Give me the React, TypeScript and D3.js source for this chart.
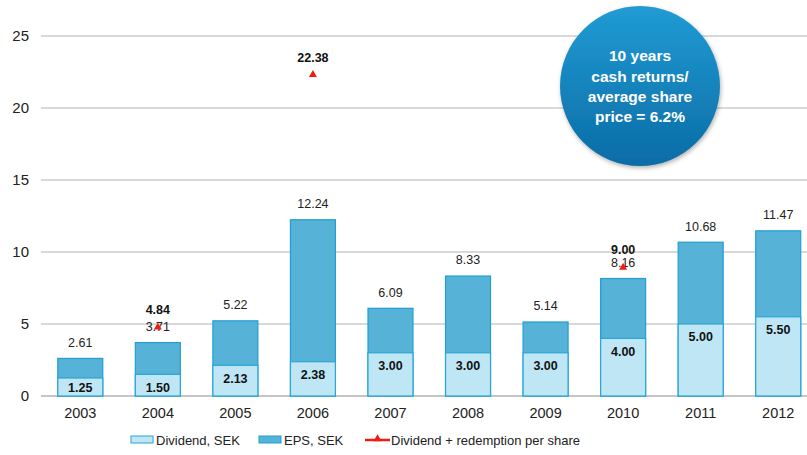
import {useEffect, useRef} from 'react';
import * as d3 from 'd3';

const years = ['2003', '2004', '2005', '2006', '2007', '2008', '2009', '2010', '2011', '2012'];
const dividend = [1.25, 1.50, 2.13, 2.38, 3.00, 3.00, 3.00, 4.00, 5.00, 5.50];
const eps = [2.61, 3.71, 5.22, 12.24, 6.09, 8.33, 5.14, 8.16, 10.68, 11.47];
// dividend + redemption, only years with a redemption
const redemption = [
	{year: '2004', value: 4.84}
	, {year: '2006', value: 22.38}
	, {year: '2010', value: 9.00}
];
const yTicks = [0, 5, 10, 15, 20, 25];
const circleLines = ['10 years', 'cash returns/', 'average share', 'price = 6.2%'];

const W = 807, H = 455;
const font = 'Liberation Sans, Arial, sans-serif';

function App(){
	const ref = useRef<SVGSVGElement>(null);

	useEffect(()=>{
		const svg = d3.select(ref.current);
		svg.selectAll('*').remove();

		const x = d3.scaleBand().domain(years).range([41.5, 817]).paddingInner(0.42).paddingOuter(0.21);
		const y = d3.scaleLinear().domain([0, 25]).range([396, 36]);
		const bw = x.bandwidth();
		const cx = (d: string)=> (x(d) as number) + bw / 2;

		const defs = svg.append('defs');
		const grad = defs.append('linearGradient').attr('id', 'circ').attr('x1', 0).attr('y1', 0).attr('x2', 0).attr('y2', 1);
		grad.append('stop').attr('offset', '0%').attr('stop-color', '#219bd4');
		grad.append('stop').attr('offset', '100%').attr('stop-color', '#0b6ca5');
		const shadow = defs.append('filter').attr('id', 'shd').attr('x', '-20%').attr('y', '-20%').attr('width', '140%').attr('height', '140%');
		shadow.append('feDropShadow').attr('dx', 1).attr('dy', 2).attr('stdDeviation', 2).attr('flood-color', '#000').attr('flood-opacity', 0.3);

		// grid
		svg.append('g').selectAll('line').data(yTicks).enter().append('line')
			.attr('x1', 41).attr('x2', W).attr('y1', (d)=> y(d)).attr('y2', (d)=> y(d))
			.attr('stroke', (d)=> d === 0 ? '#8c8c8c' : '#b4b4b4').attr('stroke-width', 1.2);

		svg.append('g').selectAll('text').data(yTicks).enter().append('text')
			.attr('x', 29).attr('y', (d)=> y(d)).attr('dy', '0.35em').attr('text-anchor', 'end')
			.attr('font-family', font).attr('font-size', 15).attr('fill', '#222').text((d)=> d);

		// x labels
		svg.append('g').selectAll('text').data(years).enter().append('text')
			.attr('x', cx).attr('y', 413).attr('dy', '0.35em').attr('text-anchor', 'middle')
			.attr('font-family', font).attr('font-size', 14.5).attr('fill', '#222').text((d)=> d);

		// EPS bars
		svg.append('g').selectAll('rect').data(eps).enter().append('rect')
			.attr('x', (d, i)=> x(years[i]) as number).attr('width', bw)
			.attr('y', (d)=> y(d)).attr('height', (d)=> y(0) - y(d))
			.attr('fill', '#56b2d6').attr('stroke', '#1f9fd4').attr('stroke-width', 1.2);

		// dividend bars
		svg.append('g').selectAll('rect').data(dividend).enter().append('rect')
			.attr('x', (d, i)=> x(years[i]) as number).attr('width', bw)
			.attr('y', (d)=> y(d)).attr('height', (d)=> y(0) - y(d))
			.attr('fill', '#bee6f5').attr('stroke', '#2aa6d8').attr('stroke-width', 1.2);

		// EPS labels
		svg.append('g').selectAll('text').data(eps).enter().append('text')
			.attr('x', (d, i)=> cx(years[i])).attr('y', (d)=> y(d) - 16).attr('dy', '0.35em').attr('text-anchor', 'middle')
			.attr('font-family', font).attr('font-size', 12.5).attr('fill', '#222').text((d)=> d.toFixed(2));

		// dividend labels
		svg.append('g').selectAll('text').data(dividend).enter().append('text')
			.attr('x', (d, i)=> cx(years[i])).attr('y', (d)=> Math.min(y(d) + 13, y(0) - 8)).attr('dy', '0.35em').attr('text-anchor', 'middle')
			.attr('font-family', font).attr('font-size', 12.5).attr('font-weight', 'bold').attr('fill', '#111').text((d)=> d.toFixed(2));

		// redemption markers
		const tri = d3.symbol().type(d3.symbolTriangle).size(28);
		svg.append('g').selectAll('path').data(redemption).enter().append('path')
			.attr('d', tri).attr('transform', (d)=> `translate(${cx(d.year)},${y(d.value) + 1})`)
			.attr('fill', '#f01c10');
		svg.append('g').selectAll('text').data(redemption).enter().append('text')
			.attr('x', (d)=> cx(d.year)).attr('y', (d)=> y(d.value) - 16.5).attr('dy', '0.35em').attr('text-anchor', 'middle')
			.attr('font-family', font).attr('font-size', 12.5).attr('font-weight', 'bold').attr('fill', '#111').text((d)=> d.value.toFixed(2));

		// circle callout
		const c = svg.append('g');
		c.append('circle').attr('cx', 640).attr('cy', 86).attr('r', 80).attr('fill', 'url(#circ)').attr('filter', 'url(#shd)');
		c.selectAll('text').data(circleLines).enter().append('text')
			.attr('x', 640).attr('y', (d, i)=> 56 + i * 20.2).attr('dy', '0.35em').attr('text-anchor', 'middle')
			.attr('font-family', font).attr('font-size', 15.5).attr('font-weight', 'bold').attr('fill', '#fff').text((d)=> d);

		// legend
		const lg = svg.append('g').attr('font-family', font).attr('font-size', 13).attr('fill', '#222');
		lg.append('rect').attr('x', 131).attr('y', 436).attr('width', 22).attr('height', 7).attr('fill', '#bee6f5').attr('stroke', '#2aa6d8');
		lg.append('text').attr('x', 156).attr('y', 440).attr('dy', '0.35em').text('Dividend, SEK');
		lg.append('rect').attr('x', 259).attr('y', 436).attr('width', 22).attr('height', 7).attr('fill', '#56b2d6').attr('stroke', '#1f9fd4');
		lg.append('text').attr('x', 284).attr('y', 440).attr('dy', '0.35em').text('EPS, SEK');
		lg.append('line').attr('x1', 365).attr('x2', 390).attr('y1', 440).attr('y2', 440).attr('stroke', '#f01c10').attr('stroke-width', 2.5);
		lg.append('path').attr('d', tri).attr('transform', 'translate(377.5,439)').attr('fill', '#f01c10');
		lg.append('text').attr('x', 391).attr('y', 440).attr('dy', '0.35em').text('Dividend + redemption per share');
	}, []);

	return (<svg ref={ref} width={W} height={H} style={{display: 'block', position: 'absolute', left: 0, top: 0, background: '#fff'}}></svg>);
}

export default App;
